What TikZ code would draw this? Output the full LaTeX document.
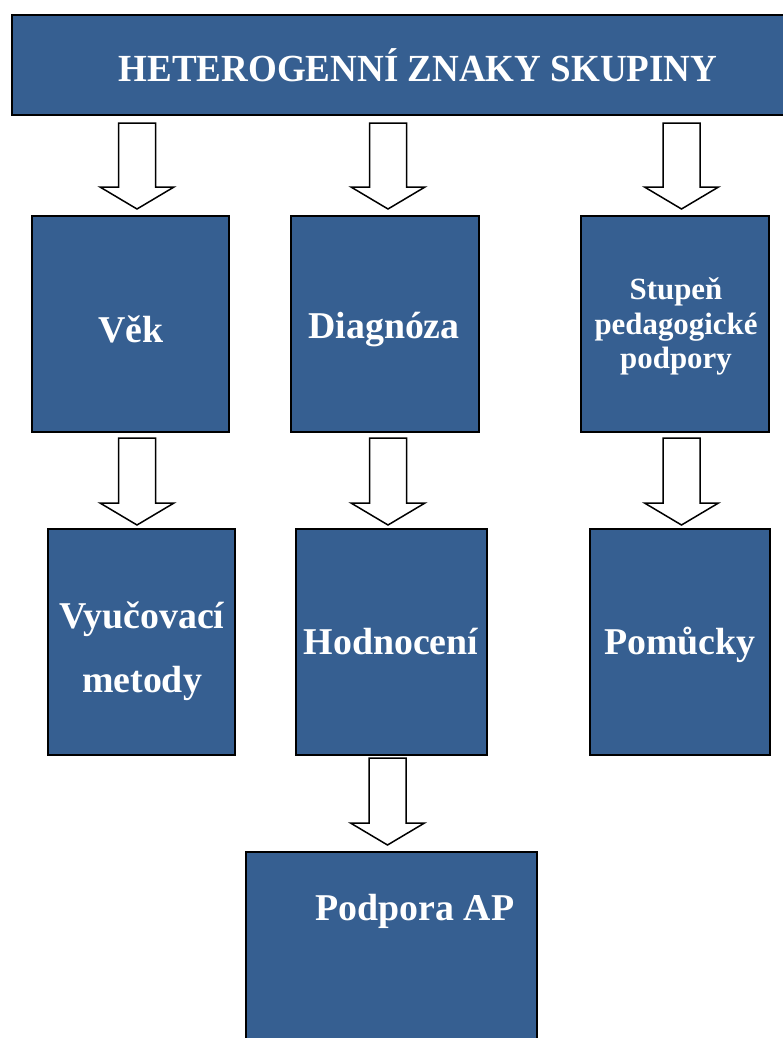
\documentclass[tikz,border=0pt]{standalone}
\usepackage{fontspec}
\setmainfont{Liberation Serif}
\definecolor{boxblue}{RGB}{54,95,145}
\newcommand{\blockarrow}[3]{%
  \draw[barrowstyle] (#1-18.5,#2) -- (#1+18.5,#2) -- (#1+18.5,#3-22) -- (#1+37,#3-22)
    -- (#1,#3) -- (#1-37,#3-22) -- (#1-18.5,#3-22) -- cycle;}
\begin{document}
\begin{tikzpicture}[x=1bp,y=-1bp,
  box/.style={draw=black,line width=2.5bp,fill=boxblue,inner sep=0pt},
  lbl/.style={text=white,font=\bfseries\fontsize{38}{40}\selectfont,anchor=base,inner sep=0pt},
  slbl/.style={text=white,font=\bfseries\fontsize{31}{35}\selectfont,anchor=base,inner sep=0pt},
  barrowstyle/.style={draw=black,fill=white,line width=1.5bp,line join=miter}]
\useasboundingbox (0,0) rectangle (783,1038);
\clip (0,0) rectangle (783,1038);
% boxes
\node[box,minimum width=778bp,minimum height=100bp] (top) at (401,65) {};
\node[box,minimum width=197bp,minimum height=216bp] (vek) at (130.5,324) {};
\node[box,minimum width=188bp,minimum height=216bp] (diag) at (385,324) {};
\node[box,minimum width=188bp,minimum height=216bp] (stup) at (675,324) {};
\node[box,minimum width=187bp,minimum height=226bp] (vyuc) at (141.5,642) {};
\node[box,minimum width=191bp,minimum height=226bp] (hodn) at (391.5,642) {};
\node[box,minimum width=180bp,minimum height=226bp] (pom) at (680,642) {};
\node[box,minimum width=291bp,minimum height=208bp] (podp) at (391.5,956) {};
% labels
\node[text=white,font=\bfseries\fontsize{38.5}{40}\selectfont,anchor=base,inner sep=0pt] (topT) at (418,81) {\scalebox{0.965}[1]{HETEROGENNÍ ZNAKY SKUPINY}};
\node[lbl] (vekT) at (131,342) {Věk};
\node[lbl] (diagT) at (384,338) {Diagnóza};
\node[slbl] (stupA) at (676,299) {Stupeň};
\node[slbl] (stupB) at (676,334) {pedagogické};
\node[slbl] (stupC) at (676,368) {podpory};
\node[lbl] (vyucA) at (142,628) {Vyučovací};
\node[lbl] (vyucB) at (142,692) {metody};
\node[lbl] (hodnT) at (391,654) {Hodnocení};
\node[lbl] (pomT) at (680,654) {Pomůcky};
\node[lbl] (podpT) at (415,920) {Podpora AP};
% block arrows
\blockarrow{137}{123}{209}
\blockarrow{388}{123}{209}
\blockarrow{681.5}{123}{209}
\blockarrow{137}{438}{525}
\blockarrow{388}{438}{525}
\blockarrow{681.5}{438}{525}
\blockarrow{387.5}{758}{845}
\end{tikzpicture}
\end{document}
